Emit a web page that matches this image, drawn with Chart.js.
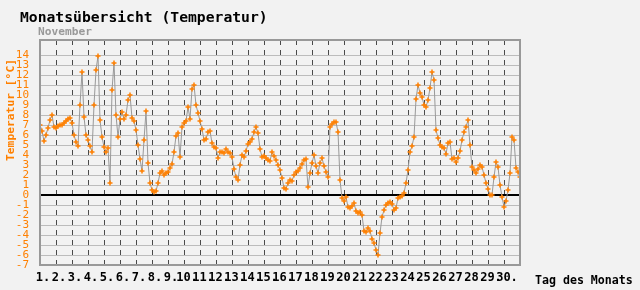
<!DOCTYPE html>
<html>
<head>
<meta charset="utf-8">
<script src="https://cdn.jsdelivr.net/npm/chart.js@4/dist/chart.umd.min.js"></script>
<style>
  html, body { margin: 0; padding: 0; background: #f2f2f2; }
  #wrap { width: 640px; height: 290px; position: relative; }
</style>
</head>
<body>
<div id="wrap"><canvas id="chart"></canvas></div>
<script>
// readings every 3 hours, 8 per day, 1 Nov 00:00 .. 1 Dec 00:00
const samplesPerDay = 8;
const temps = [
  7.0, 6.4, 5.4, 6.0, 6.7, 7.5, 8.0, 6.8,
  6.7, 6.9, 7.0, 7.0, 7.2, 7.4, 7.6, 7.7,
  7.2, 6.0, 5.3, 4.9, 9.0, 12.3, 7.8, 6.0,
  5.5, 4.9, 4.3, 9.0, 12.5, 13.9, 7.5, 5.8,
  4.8, 4.3, 4.7, 1.2, 10.5, 13.2, 8.0, 5.8,
  7.6, 8.3, 7.6, 8.0, 9.5, 10.0, 7.7, 7.4,
  6.5, 5.0, 3.6, 2.4, 5.5, 8.4, 3.2, 1.2,
  0.5, 0.3, 0.4, 1.2, 2.2, 2.4, 2.0, 2.2,
  2.3, 2.7, 3.1, 4.3, 5.9, 6.2, 3.8, 6.8,
  7.2, 7.4, 8.8, 7.6, 10.6, 11.0, 9.0, 8.2,
  7.4, 6.6, 5.5, 5.6, 6.3, 6.4, 5.2, 4.8,
  4.7, 3.7, 4.3, 4.3, 4.2, 4.6, 4.3, 4.2,
  3.8, 2.6, 1.8, 1.5, 3.0, 4.0, 3.8, 4.4,
  5.1, 5.3, 5.6, 6.3, 6.8, 6.2, 4.6, 3.8,
  3.9, 3.7, 3.5, 3.4, 4.3, 3.9, 3.5, 3.0,
  2.5, 1.7, 0.7, 0.6, 1.2, 1.5, 1.4, 2.0,
  2.3, 2.4, 2.7, 3.1, 3.5, 3.6, 0.8, 2.2,
  3.2, 4.0, 2.9, 2.2, 3.2, 3.7, 2.9, 2.3,
  1.8, 6.8, 7.1, 7.3, 7.3, 6.3, 1.5, -0.3,
  -0.6, -0.2, -1.2, -1.3, -1.1, -0.8, -1.6, -1.8,
  -1.7, -2.0, -3.6, -3.7, -3.3, -3.6, -4.4, -4.8,
  -5.5, -6.0, -3.8, -2.2, -1.5, -1.0, -0.8, -0.7,
  -0.9, -1.5, -1.3, -0.3, -0.2, -0.1, 0.2, 1.2,
  2.5, 4.3, 4.9, 5.8, 9.6, 11.0, 10.2, 9.8,
  9.0, 8.8, 9.5, 10.7, 12.3, 11.5, 6.5, 5.7,
  5.0, 4.8, 4.7, 4.1, 5.2, 5.3, 3.6, 3.7,
  3.3, 3.7, 4.4, 5.5, 6.3, 6.8, 7.5, 5.0,
  2.8, 2.5, 2.2, 2.6, 3.0, 2.8, 2.0, 1.2,
  0.6, 0.0, 0.0, 1.8, 3.3, 2.8, 1.0, -0.2,
  -1.2, -0.6, 0.5, 2.2, 5.8, 5.5, 2.7, 2.3,
  1.8
];
const dayTicks = Array.from({ length: 31 }, (_, i) => i + 1);
const tempTicks = Array.from({ length: 22 }, (_, i) => i - 7); // -7 .. 14

const ORANGE = '#ff8000';
const MONO = '"DejaVu Sans Mono", monospace';

const decor = {
  id: 'decor',
  beforeDraw(chart) {
    const ctx = chart.ctx;
    ctx.save();
    ctx.fillStyle = '#f2f2f2';
    ctx.fillRect(0, 0, chart.width, chart.height);
    ctx.restore();
  },
  beforeDatasetsDraw(chart) {
    // horizontal grid, one per degree, zero line black
    const { ctx, chartArea: a, scales: { y } } = chart;
    ctx.save();
    tempTicks.forEach(v => {
      if (v === -7) return;
      const py = Math.round(y.getPixelForValue(v));
      ctx.beginPath();
      if (v === 0) {
        ctx.strokeStyle = '#000';
        ctx.lineWidth = 2;
        ctx.moveTo(a.left, py);
        ctx.lineTo(a.right, py);
      } else {
        ctx.strokeStyle = '#bcbcbc';
        ctx.lineWidth = 1;
        ctx.moveTo(a.left, py + 0.5);
        ctx.lineTo(a.right, py + 0.5);
      }
      ctx.stroke();
    });
    ctx.restore();
  },
  afterDraw(chart) {
    const { ctx, chartArea: a } = chart;
    ctx.save();
    ctx.strokeStyle = '#999';
    ctx.lineWidth = 2;
    ctx.strokeRect(a.left, a.top, a.right - a.left, a.bottom - a.top);

    ctx.textBaseline = 'middle';
    ctx.fillStyle = '#000';
    ctx.font = 'bold 14.7px ' + MONO;
    ctx.fillText('Monatsübersicht (Temperatur)', 20, 18);

    ctx.fillStyle = '#999';
    ctx.font = 'bold 11.2px ' + MONO;
    ctx.fillText('November', 38, 32);

    ctx.fillStyle = '#000';
    ctx.font = 'bold 11.6px ' + MONO;
    ctx.fillText('Tag des Monats', 535, 281);

    ctx.translate(11, 110);
    ctx.rotate(-Math.PI / 2);
    ctx.textAlign = 'center';
    ctx.fillStyle = ORANGE;
    ctx.font = 'bold 11.3px ' + MONO;
    ctx.fillText('Temperatur [°C]', 0, 0);
    ctx.restore();
  }
};

new Chart(document.getElementById('chart'), {
  type: 'line',
  data: {
    datasets: [{
      data: temps.map((t, i) => ({ x: 1 + i / samplesPerDay, y: t })),
      borderColor: '#999',
      borderWidth: 1,
      pointStyle: 'cross',
      pointRadius: 2.5,
      pointBorderColor: ORANGE,
      pointBorderWidth: 1.5,
      pointHoverRadius: 2.5,
      tension: 0
    }]
  },
  options: {
    responsive: true,
    maintainAspectRatio: false,
    animation: false,
    events: [],
    layout: { padding: { top: 40, right: 120, left: 0, bottom: 0 } },
    plugins: { legend: { display: false }, tooltip: { enabled: false } },
    scales: {
      x: {
        type: 'linear',
        min: 1,
        max: 31,
        afterFit: s => { s.height = 25; },
        afterBuildTicks: s => { s.ticks = dayTicks.map(v => ({ value: v })); },
        border: { display: false, dash: [5, 5] },
        grid: {
          drawTicks: false,
          color: c => (c.tick && (c.tick.value === 1 || c.tick.value === 31)) ? 'rgba(0,0,0,0)' : '#4a4a4a',
          lineWidth: 1
        },
        ticks: {
          autoSkip: false,
          maxRotation: 0,
          padding: 6,
          labelOffset: 3,
          color: '#000',
          font: { family: MONO, size: 12, weight: 'bold' },
          callback: v => (v <= 30 ? v + '.' : '')
        }
      },
      y: {
        min: -7,
        max: 15.5,
        afterFit: s => { s.width = 40; },
        afterBuildTicks: s => { s.ticks = tempTicks.map(v => ({ value: v })); },
        border: { display: false },
        grid: { display: false },
        ticks: {
          autoSkip: false,
          padding: 3,
          color: ORANGE,
          font: { family: MONO, size: 11 },
          callback: v => String(v)
        }
      }
    }
  },
  plugins: [decor]
});
</script>
</body>
</html>
